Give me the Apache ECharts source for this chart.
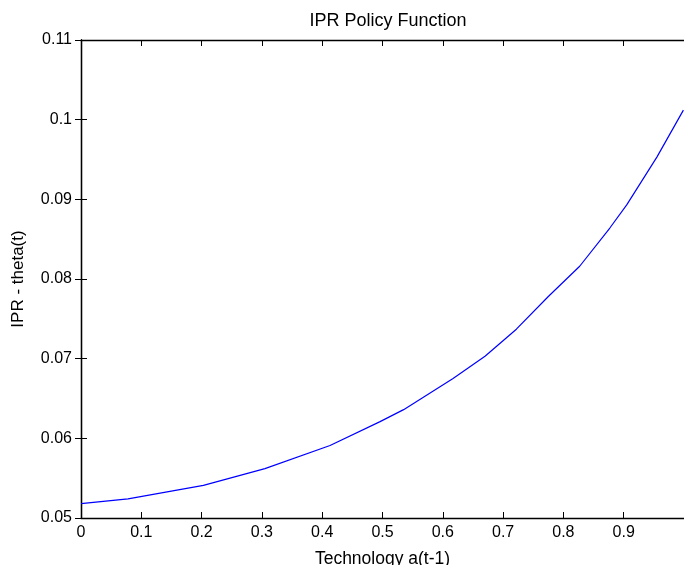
<!DOCTYPE html>
<html>
<head>
<meta charset="utf-8">
<script src="https://cdn.jsdelivr.net/npm/echarts@6/dist/echarts.min.js"></script>
<style>html,body{margin:0;padding:0;background:#fff}#c{width:684px;height:565px}</style>
</head>
<body>
<div id="c"></div>
<script>
const technology = [0, 0.078, 0.203, 0.305, 0.413, 0.496, 0.535, 0.617, 0.670, 0.722, 0.775, 0.827, 0.877, 0.905, 0.955, 0.999];
const ipr = [0.0518, 0.0524, 0.0541, 0.0562, 0.0591, 0.0621, 0.0636, 0.0675, 0.0703, 0.0737, 0.0778, 0.0816, 0.0864, 0.0893, 0.0953, 0.1012];
const titleText = 'IPR Policy Function';
const xName = 'Technology a(t-1)';
const yName = 'IPR - theta(t)';

const font = 'Liberation Sans, Arial, sans-serif';
const chart = echarts.init(document.getElementById('c'));
const axisLine = {show: true, lineStyle: {color: '#000', width: 1.3}};
const tick = {show: true, inside: true, length: 6, lineStyle: {color: '#000', width: 1}};
chart.setOption({
  animation: false,
  backgroundColor: '#fff',
  title: {text: titleText, left: 383, top: 7, textAlign: 'center',
    textStyle: {fontFamily: font, fontSize: 18, fontWeight: 'normal', color: '#000'}},
  grid: {left: 81, right: 0, top: 40, bottom: 47, show: false, outerBoundsMode: 'none', containLabel: false},
  xAxis: [{
    type: 'value', min: 0, max: 1, interval: 0.1, position: 'bottom',
    name: xName, nameLocation: 'middle', nameGap: 32,
    nameTextStyle: {fontFamily: font, fontSize: 17.5, color: '#000'},
    axisLine: axisLine, axisTick: tick, splitLine: {show: false},
    axisLabel: {fontFamily: font, fontSize: 16, color: '#000', margin: 7, showMaxLabel: false,
      formatter: v => String(Math.round(v * 10) / 10)}
  }, {
    type: 'value', min: 0, max: 1, interval: 0.1, position: 'top',
    axisLine: axisLine, axisTick: tick, axisLabel: {show: false}, splitLine: {show: false}
  }],
  yAxis: [{
    type: 'value', min: 0.05, max: 0.11, interval: 0.01, position: 'left',
    name: yName, nameLocation: 'middle', nameGap: 54,
    nameTextStyle: {fontFamily: font, fontSize: 17, color: '#000'},
    axisLine: axisLine, axisTick: tick, splitLine: {show: false},
    axisLabel: {fontFamily: font, fontSize: 16, color: '#000', margin: 9,
      formatter: v => String(Math.round(v * 100) / 100)}
  }, {
    type: 'value', min: 0.05, max: 0.11, interval: 0.01, position: 'right',
    axisLine: axisLine, axisTick: tick, axisLabel: {show: false}, splitLine: {show: false}
  }],
  series: [{
    type: 'line', xAxisIndex: 0, yAxisIndex: 0,
    data: technology.map((t, i) => [t, ipr[i]]),
    showSymbol: false, smooth: false,
    lineStyle: {color: '#0000ff', width: 1.2}
  }]
});
</script>
</body>
</html>
